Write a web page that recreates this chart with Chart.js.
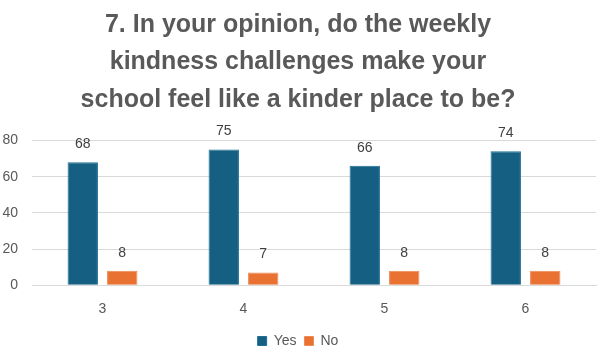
<!DOCTYPE html>
<html><head><meta charset="utf-8">
<script src="https://cdn.jsdelivr.net/npm/chart.js@4/dist/chart.umd.min.js"></script>
<style>html,body{margin:0;padding:0;background:#fff}#c{display:block}</style>
</head><body>
<canvas id="c" width="600" height="355"></canvas>
<script>
const categories = ["3", "4", "5", "6"];
const yesValues = [68, 75, 66, 74];
const noValues = [8, 7, 8, 8];
const titleLines = ["7. In your opinion, do the weekly", "kindness challenges make your", "school feel like a kinder place to be?"];

const labelPlugin = {
  id: 'barLabels',
  afterDatasetsDraw(chart) {
    const ctx = chart.ctx;
    ctx.save();
    ctx.font = '14px "Liberation Sans", Arial, sans-serif';
    ctx.fillStyle = '#404040';
    ctx.textAlign = 'center';
    ctx.textBaseline = 'middle';
    chart.data.datasets.forEach((ds, i) => {
      chart.getDatasetMeta(i).data.forEach((bar, j) => {
        ctx.fillText(String(ds.data[j]), bar.x, bar.y - 18);
      });
    });
    ctx.restore();
  }
};

new Chart(document.getElementById('c'), {
  type: 'bar',
  data: {
    labels: categories,
    datasets: [
      { label: 'Yes', data: yesValues, backgroundColor: '#156082', borderColor: '#1d6f95', borderWidth: 1, categoryPercentage: 0.56, barPercentage: 0.77 },
      { label: 'No', data: noValues, backgroundColor: '#E97132', borderColor: '#ee8a55', borderWidth: 1, categoryPercentage: 0.56, barPercentage: 0.77 }
    ]
  },
  options: {
    responsive: false,
    animation: false,
    layout: { padding: { left: 0, right: 4, top: 0, bottom: -3 } },
    plugins: {
      title: {
        display: true,
        text: titleLines,
        color: '#595959',
        font: { family: '"Liberation Sans", Arial, sans-serif', size: 25, weight: 'bold', lineHeight: 1.5 },
        padding: { top: 6, bottom: 22 }
      },
      legend: {
        position: 'bottom',
        labels: { color: '#595959', font: { family: '"Liberation Sans", Arial, sans-serif', size: 14 }, boxWidth: 9, boxHeight: 9, padding: 8 }
      },
      tooltip: { enabled: false }
    },
    scales: {
      x: {
        grid: { display: false },
        border: { color: '#d9d9d9' },
        ticks: { color: '#595959', padding: 8, font: { family: '"Liberation Sans", Arial, sans-serif', size: 14 } }
      },
      y: {
        min: 0, max: 80,
        afterFit(scale) { scale.width = 32; },
        ticks: { stepSize: 20, color: '#595959', padding: 14, font: { family: '"Liberation Sans", Arial, sans-serif', size: 14 } },
        grid: { color: '#d9d9d9', drawTicks: false },
        border: { display: false }
      }
    }
  },
  plugins: [labelPlugin]
});
</script>
</body></html>
